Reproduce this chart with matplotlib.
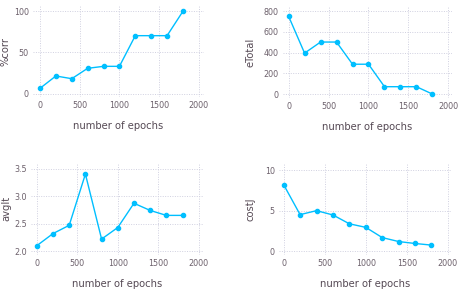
import matplotlib
matplotlib.use("Agg")
import matplotlib.pyplot as plt

epochs = [0, 200, 400, 600, 800, 1000, 1200, 1400, 1600, 1800]
pct_corr = [6.5, 21.5, 18.2, 30.8, 33.2, 33.2, 70.4, 70.4, 70.4, 100]
e_total = [751, 395, 502, 502, 288, 288, 71, 71, 71, 0]
avg_it = [2.10, 2.32, 2.47, 3.40, 2.22, 2.43, 2.87, 2.74, 2.65, 2.65]
cost_j = [8.22, 4.53, 5.02, 4.49, 3.40, 2.96, 1.70, 1.21, 0.97, 0.77]

x_ticks = [0, 500, 1000, 1500, 2000]
W, H = 462, 296
LINE = "#00BFFF"
TICKC = "#6C606B"
LABC = "#564A55"
GRIDC = "#D0D0E0"

panels = [
    (pct_corr, "%corr", [0, 50, 100], (-4, 107), (33, 5.5, 204, 97)),
    (e_total, "eTotal", [0, 200, 400, 600, 800], (-38, 845), (283, 6.5, 452, 98)),
    (avg_it, "avgIt", [2.0, 2.5, 3.0, 3.5], (1.94, 3.61), (31, 162.5, 204, 254.5)),
    (cost_j, "costJ", [0, 5, 10], (-0.45, 10.9), (279, 163, 452, 255)),
]
xlims = [(-88, 2065), (-70, 2045), (-72, 2065), (-57, 2050)]
ylabel_px = [11, 256, 11, 256]

fig = plt.figure(figsize=(W / 100, H / 100), dpi=100)
for (data, ylab, yt, yl, box), xl, lx in zip(panels, xlims, ylabel_px):
    l, t, r, b = box
    ax = fig.add_axes([l / W, 1 - b / H, (r - l) / W, (b - t) / H])
    ax.plot(epochs, data, color=LINE, lw=1.0, marker="o", ms=3.0, zorder=3)
    ax.set_xlim(*xl)
    ax.set_ylim(*yl)
    ax.set_xticks(x_ticks)
    ax.set_yticks(yt)
    if ylab == "avgIt":
        ax.set_yticklabels([f"{v:.1f}" for v in yt])
    for s in ax.spines.values():
        s.set_visible(False)
    ax.grid(True, color=GRIDC, ls=(0, (1, 1.5)), lw=0.7)
    ax.set_axisbelow(True)
    ax.tick_params(length=0, labelsize=5.8, colors=TICKC, pad=3)
    ax.set_xlabel("number of epochs", fontsize=7.2, color=LABC, labelpad=8)
    ax.set_ylabel(ylab, fontsize=7.2, color=LABC)
    ax.yaxis.set_label_coords((lx - l) / (r - l), 0.5)

fig.savefig("out.png", dpi=100)
